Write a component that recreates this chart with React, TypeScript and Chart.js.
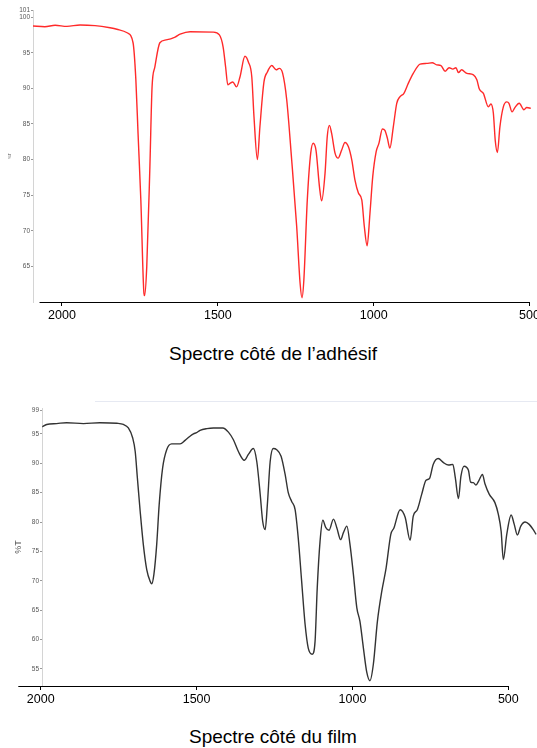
import React, { useEffect, useRef } from "react";
import { Chart, registerables } from "chart.js";

Chart.register(...registerables);

// ---------- data ----------
const X_TICKS = [2000, 1500, 1000, 500];
const X_AXIS_EXTENT = [2072, 500];

const TOP_WAVENUMBER = [
  2093, 2055, 2022, 1984, 1942, 1894, 1846, 1824, 1791, 1772, 1763, 1756, 1747, 1737, 1735, 1728, 1718, 1711, 1702,
  1686, 1666, 1637, 1621, 1589, 1515, 1495, 1483, 1475, 1468, 1461, 1452, 1440, 1429, 1413, 1402, 1391, 1384, 1373,
  1365, 1352, 1341, 1327, 1313, 1303, 1292, 1279, 1263, 1247, 1236, 1230, 1224, 1213, 1202, 1194, 1185, 1174, 1167,
  1156, 1149, 1142, 1135, 1124, 1114, 1103, 1092, 1081, 1070, 1060, 1049, 1038, 1030, 1021, 1012, 1003, 992, 983,
  972, 964, 956, 948, 937, 926, 916, 903, 889, 873, 851, 830, 812, 798, 784, 771, 758, 746, 736, 728, 718, 701, 680,
  669, 661, 648, 632, 624, 616, 610, 603, 595, 584, 573, 566, 556, 547, 533, 518, 509, 496,
];
const TOP_TRANSMITTANCE = [
  98.75, 98.65, 98.85, 98.7, 98.9, 98.8, 98.5, 98.3, 97.8, 96.4, 91.2, 83.7, 74.3, 61.2, 60.9, 65.0, 79.0, 90.2, 93.0,
  96.4, 96.8, 97.2, 97.6, 97.95, 97.9, 97.5, 95.8, 93.0, 90.5, 90.7, 90.9, 90.2, 91.6, 94.5, 93.7, 91.6, 86.0, 80.0,
  84.6, 90.9, 92.3, 93.2, 92.6, 92.8, 92.1, 88.4, 79.9, 70.6, 62.6, 60.6, 63.1, 74.3, 80.9, 82.3, 81.3, 76.2, 74.2,
  78.1, 83.2, 84.8, 83.7, 80.9, 80.2, 81.3, 82.4, 81.8, 79.9, 77.1, 75.3, 74.3, 70.6, 67.9, 72.4, 77.6, 81.1, 82.3,
  84.3, 84.1, 83.0, 81.6, 84.6, 87.9, 88.8, 89.3, 90.7, 92.1, 93.4, 93.5, 93.6, 93.3, 93.2, 92.4, 92.9, 92.7, 92.9,
  92.2, 92.6, 92.1, 91.9, 91.2, 89.9, 89.3, 87.4, 87.8, 86.5, 82.7, 81.0, 84.6, 87.4, 88.1, 87.9, 86.7, 87.3, 87.9,
  87.0, 87.3, 87.2,
];
const TOP_Y_TICKS = [65, 70, 75, 80, 85, 90, 95, 100, 101];

const BOTTOM_WAVENUMBER = [
  1995, 1981, 1949, 1917, 1863, 1810, 1756, 1735, 1719, 1705, 1697, 1690, 1681, 1671, 1660, 1649, 1644, 1637, 1628,
  1620, 1609, 1596, 1580, 1553, 1537, 1521, 1510, 1500, 1489, 1467, 1446, 1416, 1398, 1382, 1366, 1347, 1334, 1318,
  1307, 1296, 1288, 1280, 1273, 1264, 1254, 1243, 1229, 1216, 1206, 1195, 1184, 1174, 1163, 1152, 1142, 1129, 1120,
  1113, 1104, 1095, 1086, 1075, 1061, 1050, 1038, 1029, 1018, 1008, 997, 986, 976, 965, 954, 944, 933, 920, 906, 892,
  877, 867, 847, 831, 815, 805, 792, 778, 764, 753, 741, 725, 708, 692, 678, 670, 660, 652, 642, 628, 621, 612, 604,
  594, 583, 575, 561, 543, 532, 523, 516, 505, 491, 481, 471, 460, 446, 433, 420, 411,
];
const BOTTOM_TRANSMITTANCE = [
  96.2, 96.6, 96.75, 96.9, 96.75, 96.9, 96.8, 96.6, 96.0, 94.3, 92.0, 87.5, 81.8, 76.2, 71.9, 69.9, 69.5, 71.1, 76.2,
  83.0, 89.2, 92.3, 93.3, 93.3, 93.9, 94.6, 95.0, 95.2, 95.6, 95.9, 96.0, 96.0, 95.3, 94.0, 92.0, 90.5, 91.5, 92.5,
  90.3, 84.7, 80.1, 78.7, 83.0, 90.3, 92.5, 92.3, 91.2, 88.1, 85.0, 83.5, 82.1, 77.3, 69.9, 62.6, 58.6, 57.5, 59.7,
  68.8, 76.7, 80.3, 79.1, 78.6, 80.5, 79.0, 77.0, 78.2, 79.3, 76.2, 71.1, 65.4, 63.1, 58.6, 54.4, 53.0, 55.8, 63.1,
  68.2, 72.2, 77.9, 79.0, 82.1, 80.8, 76.9, 81.0, 82.1, 84.7, 87.1, 87.4, 89.8, 90.8, 90.1, 89.7, 89.8, 87.5, 84.0,
  87.8, 89.5, 88.8, 86.8, 86.7, 86.3, 87.1, 88.1, 86.5, 84.7, 83.3, 81.3, 78.4, 73.6, 77.9, 81.2, 79.6, 77.8, 79.3,
  80.0, 79.6, 78.7, 77.9,
];
const BOTTOM_Y_TICKS = [55, 60, 65, 70, 75, 80, 85, 90, 95, 99];

const TOP_CAPTION = "Spectre côté de l’adhésif";
const BOTTOM_CAPTION = "Spectre côté du film";
const Y_TITLE = "%T";

const FONT = "'Liberation Sans', Arial, sans-serif";

type SpectrumProps = {
  wavenumber: number[];
  transmittance: number[];
  yTicks: number[];
  color: string;
  top: number;
  height: number;
  xMin: number;
  xMax: number;
  yMin: number;
  yMax: number;
  padTop: number;
  xHeight: number;
  yWidth: number;
  titleSize: number;
  titlePad: number;
};

function Spectrum(p: SpectrumProps) {
  const ref = useRef<HTMLCanvasElement | null>(null);

  useEffect(() => {
    if (!ref.current) return;
    const axisLine = {
      id: "axisLine",
      afterDraw(chart: any) {
        const { ctx, chartArea, scales } = chart;
        const x = scales.x;
        const y = Math.round(chartArea.bottom) + 0.5;
        ctx.save();
        ctx.strokeStyle = "#000";
        ctx.lineWidth = 1;
        ctx.beginPath();
        ctx.moveTo(x.getPixelForValue(X_AXIS_EXTENT[0]), y);
        ctx.lineTo(x.getPixelForValue(X_AXIS_EXTENT[1]), y);
        ctx.stroke();
        ctx.restore();
      },
    };

    const chart = new Chart(ref.current, {
      type: "line",
      data: {
        datasets: [
          {
            data: p.wavenumber.map((w, i) => ({ x: w, y: p.transmittance[i] })),
            borderColor: p.color,
            borderWidth: 1.4,
            pointRadius: 0,
            cubicInterpolationMode: "monotone",
            fill: false,
          },
        ],
      },
      options: {
        animation: false,
        responsive: false,
        maintainAspectRatio: false,
        layout: { padding: { top: p.padTop, left: 0, right: 0, bottom: 0 } },
        plugins: { legend: { display: false }, tooltip: { enabled: false }, title: { display: false } },
        scales: {
          x: {
            type: "linear",
            reverse: true,
            min: p.xMin,
            max: p.xMax,
            afterBuildTicks: (s: any) => {
              s.ticks = X_TICKS.map((v) => ({ value: v }));
            },
            afterFit: (s: any) => {
              s.paddingLeft = 0;
              s.paddingRight = 0;
              s.height = p.xHeight;
            },
            grid: { display: true, drawOnChartArea: false, drawTicks: true, tickLength: 4, color: "#000" },
            border: { display: false },
            ticks: {
              color: "#000",
              font: { family: FONT, size: 12.5 },
              padding: 2,
              maxRotation: 0,
              autoSkip: false,
              callback: (v: any) => String(v),
            },
          },
          y: {
            type: "linear",
            min: p.yMin,
            max: p.yMax,
            afterBuildTicks: (s: any) => {
              s.ticks = p.yTicks.map((v) => ({ value: v }));
            },
            afterFit: (s: any) => {
              s.width = p.yWidth;
              s.paddingTop = 0;
              s.paddingBottom = 0;
            },
            grid: { display: true, drawOnChartArea: false, drawTicks: true, tickLength: 2, color: "#999" },
            border: { display: true, color: "#d4d4d4", width: 1 },
            ticks: {
              color: "#555",
              font: { family: FONT, size: 6.5 },
              padding: 1,
              autoSkip: false,
              callback: (v: any) => String(v),
            },
            title: {
              display: true,
              text: Y_TITLE,
              color: "#555",
              font: { family: FONT, size: p.titleSize },
              padding: { top: p.titlePad, bottom: 0 },
            },
          },
        },
      },
      plugins: [axisLine],
    } as any);

    return () => chart.destroy();
  }, []);

  return (
    <canvas
      ref={ref}
      width={537}
      height={p.height}
      style={{ position: "absolute", left: 0, top: p.top, width: 537, height: p.height, display: "block" }}
    />
  );
}

const captionStyle: React.CSSProperties = {
  position: "absolute",
  left: 10,
  width: 526,
  textAlign: "center",
  fontFamily: FONT,
  fontSize: 19,
  lineHeight: "19px",
  color: "#000",
  whiteSpace: "nowrap",
};

export default function App() {
  return (
    <div style={{ position: "absolute", left: 0, top: 0, width: 537, height: 748, overflow: "hidden", background: "#fff" }}>
      <Spectrum
        wavenumber={TOP_WAVENUMBER}
        transmittance={TOP_TRANSMITTANCE}
        yTicks={TOP_Y_TICKS}
        color="#ff2a2a"
        top={0}
        height={330}
        xMin={476}
        xMax={2093}
        yMin={60}
        yMax={101}
        padTop={10}
        xHeight={28}
        yWidth={33}
        titleSize={4}
        titlePad={7.6}
      />
      <div style={{ ...captionStyle, top: 344 }}>{TOP_CAPTION}</div>
      <div
        style={{
          position: "absolute",
          left: 95,
          top: 401,
          width: 442,
          height: 0,
          borderTop: "1px solid #e6e9f2",
        }}
      />
      <Spectrum
        wavenumber={BOTTOM_WAVENUMBER}
        transmittance={BOTTOM_TRANSMITTANCE}
        yTicks={BOTTOM_Y_TICKS}
        color="#333333"
        top={395}
        height={320}
        xMin={408}
        xMax={1996}
        yMin={52.1}
        yMax={99.4}
        padTop={13}
        xHeight={29}
        yWidth={42}
        titleSize={9}
        titlePad={13.6}
      />
      <div style={{ ...captionStyle, top: 727 }}>{BOTTOM_CAPTION}</div>
    </div>
  );
}
